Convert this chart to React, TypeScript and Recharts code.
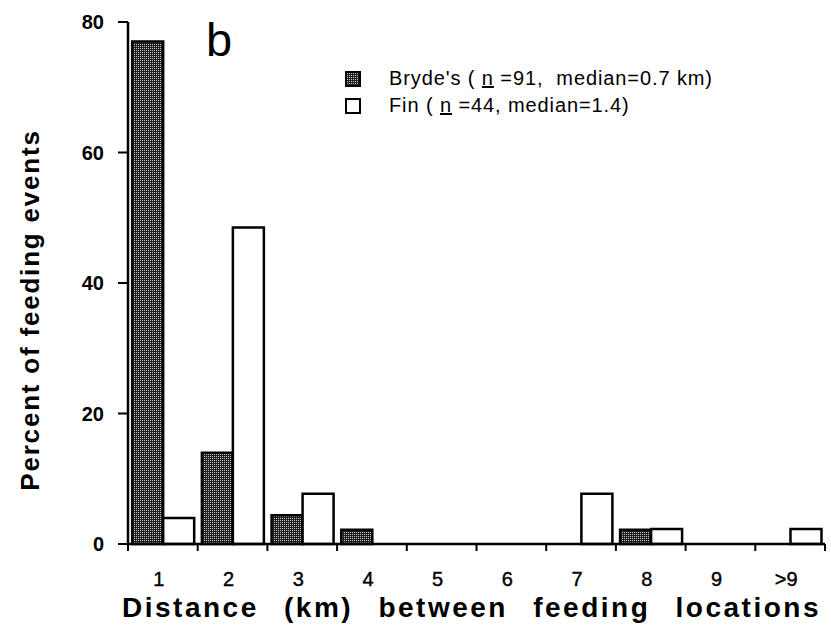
import { BarChart, Bar, XAxis, YAxis, Legend } from 'recharts'

const distanceLabels = ['1', '2', '3', '4', '5', '6', '7', '8', '9', '>9']
const brydesPercent = [77, 14, 4.4, 2.2, 0, 0, 0, 2.2, 0, 0]
const finPercent = [4, 48.5, 7.7, 0, 0, 0, 7.7, 2.3, 0, 2.3]
const yTicks = [0, 20, 40, 60, 80]

const brydesLabel = 'Bryde\'s'
const finLabel = 'Fin'

const data = distanceLabels.map((d, i) => ({
  distance: d,
  brydes: brydesPercent[i],
  fin: finPercent[i]
}))

const FONT = '"Liberation Sans", Arial, Helvetica, sans-serif'

// category tick: label in the middle, tick marks on the band boundaries
function CatTick(props: any) {
  const { x, y, payload, index, visibleTicksCount } = props
  const half = payload?.offset ?? 0
  const axisY = y - 8
  return (
    <g>
      <line x1={x - half} x2={x - half} y1={axisY} y2={axisY + 7} stroke="#000" strokeWidth={2} />
      {index === visibleTicksCount - 1 && (
        <line x1={x + half} x2={x + half} y1={axisY} y2={axisY + 7} stroke="#000" strokeWidth={2} />
      )}
      <text x={x - 4} y={axisY + 42} textAnchor="middle" fontSize={20} fontFamily={FONT} fill="#000" stroke="#000" strokeWidth={0.4}>
        {payload.value}
      </text>
    </g>
  )
}

function Swatch({ fill }: { fill: string }) {
  return (
    <svg width={16} height={16} style={{ marginRight: 28, flexShrink: 0 }}>
      <rect x={1} y={1} width={14} height={14} fill={fill} stroke="#000" strokeWidth={2} />
    </svg>
  )
}

function KeyBox() {
  return (
    <div style={{ fontFamily: FONT, fontSize: 20, letterSpacing: 0.9, color: '#000', lineHeight: '27px' }}>
      <div style={{ display: 'flex', alignItems: 'center' }}>
        <Swatch fill="url(#stipple)" />
        <span>{brydesLabel} ( <span style={{ textDecoration: 'underline' }}>n</span> =91,&nbsp; median=0.7 km)</span>
      </div>
      <div style={{ display: 'flex', alignItems: 'center' }}>
        <Swatch fill="#fff" />
        <span>{finLabel} ( <span style={{ textDecoration: 'underline' }}>n</span> =44, median=1.4)</span>
      </div>
    </div>
  )
}

export default function App() {
  return (
    <div style={{ position: 'absolute', left: 0, top: 0, width: 831, height: 635, background: '#fff', fontFamily: FONT }}>
      <BarChart
        width={831}
        height={635}
        data={data}
        margin={{ top: 22, right: 6, bottom: 11, left: 0 }}
        barCategoryGap="6%"
        barGap={0}
      >
        <defs>
          <pattern id="stipple" width="2" height="2" patternUnits="userSpaceOnUse">
            <rect width="2" height="2" fill="#1e1e1e" />
            <rect x="0" y="0" width="1" height="1" fill="#c8c8c8" />
          </pattern>
        </defs>
        <XAxis
          dataKey="distance"
          height={80}
          interval={0}
          tickLine={false}
          axisLine={{ stroke: '#000', strokeWidth: 2.5 }}
          tick={<CatTick />}
          label={{
            value: 'Distance (km) between feeding locations',
            position: 'insideBottom',
            offset: 7,
            dx: -5,
            style: { fontFamily: FONT, fontSize: 28, fontWeight: 'bold', fill: '#000', letterSpacing: 2.5, wordSpacing: 15 }
          }}
        />
        <YAxis
          width={128}
          domain={[0, 80]}
          ticks={yTicks}
          interval={0}
          tickSize={10}
          tickMargin={14}
          axisLine={{ stroke: '#000', strokeWidth: 2.5 }}
          tickLine={{ stroke: '#000', strokeWidth: 2 }}
          tick={{ fontFamily: FONT, fontSize: 20, fontWeight: 'bold', fill: '#000' }}
          label={{
            value: 'Percent of feeding events',
            angle: -90,
            position: 'center',
            dx: -34,
            dy: 27,
            style: { fontFamily: FONT, fontSize: 26, fontWeight: 'bold', fill: '#000', letterSpacing: 1.8 }
          }}
        />
        <Legend
          layout="horizontal"
          verticalAlign="middle"
          align="center"
          content={() => <KeyBox />}
          wrapperStyle={{ top: 65, left: 345, width: 460 }}
        />
        <Bar dataKey="brydes" name={brydesLabel} fill="url(#stipple)" stroke="#000" strokeWidth={2.5} isAnimationActive={false} />
        <Bar dataKey="fin" name={finLabel} fill="#fff" stroke="#000" strokeWidth={2.5} isAnimationActive={false} />
      </BarChart>
      <div style={{ position: 'absolute', left: 206, top: 10, fontSize: 47, lineHeight: '60px', color: '#000', fontFamily: FONT }}>b</div>
    </div>
  )
}
